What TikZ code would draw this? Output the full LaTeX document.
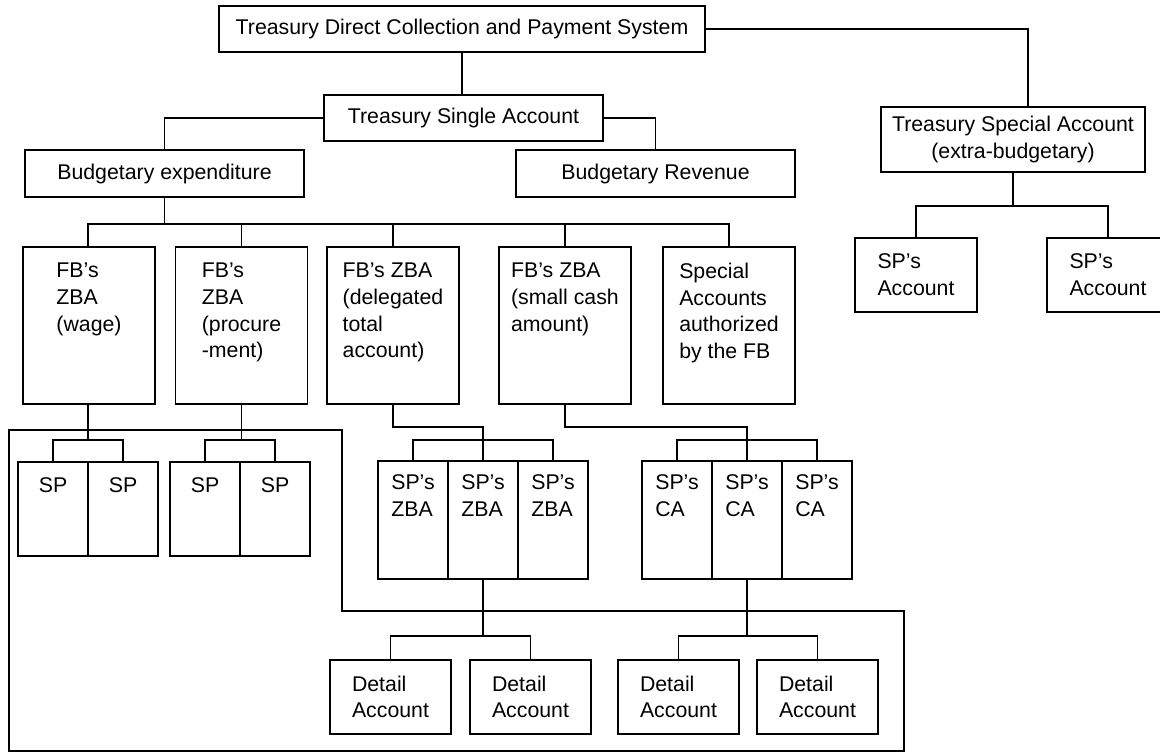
\documentclass[tikz,border=0pt]{standalone}
\usepackage{fontspec}
\setmainfont{Liberation Sans}
\usepackage{tikz}
\usetikzlibrary{calc}

\begin{document}
\begin{tikzpicture}[x=1pt,y=-1pt,line width=1.8pt,
  every node/.style={font=\fontsize{21.3}{26.7}\selectfont},
  box/.style={draw,inner sep=0pt,align=center},
  fb/.style={box,minimum width=132pt,minimum height=157pt},
  sp/.style={box,minimum width=70pt,minimum height=94pt},
  spz/.style={box,minimum width=70pt,minimum height=118pt},
  acc/.style={box,align=left,minimum width=121pt,minimum height=74pt},
  txt/.style={inner sep=0pt,align=left,anchor=north}]
  \useasboundingbox (0,0) rectangle (1160,753);

  % treasury level
  \node[box,minimum width=486pt,minimum height=46pt] (tdc) at (462,29) {Treasury Direct Collection and Payment System};
  \node[box,minimum width=279pt,minimum height=46pt] (tsa) at (463.5,118) {Treasury Single Account};
  \node[box,minimum width=279pt,minimum height=47pt] (exp) at (164.5,173.5) {Budgetary expenditure};
  \node[box,minimum width=279pt,minimum height=47pt] (rev) at (655.5,173.5) {Budgetary Revenue};
  \node[box,minimum width=264pt,minimum height=65pt] (tspa) at (1013,139.5) {Treasury Special Account\\(extra-budgetary)};
  \node[acc,minimum width=122pt] (spa1) at (916,275) {SP's\\Account};
  \node[acc,minimum width=122pt] (spa2) at (1108,275) {SP's\\Account};

  % FB accounts
  \node[fb] (wage) at (89,325.5) {};
  \node[fb] (proc) at (241.5,325.5) {};
  \node[fb] (dele) at (393,325.5) {};
  \node[fb] (cash) at (565,325.5) {};
  \node[fb] (spec) at (729,325.5) {};
  \node[txt] (wage-t) at ([yshift=-16pt]wage.north) {FB's\\ZBA\\(wage)};
  \node[txt] (proc-t) at ([yshift=-16pt]proc.north) {FB's\\ZBA\\(procure\\-ment)};
  \node[txt] (dele-t) at ([yshift=-16pt]dele.north) {FB's ZBA\\(delegated\\total\\account)};
  \node[txt] (cash-t) at ([yshift=-16pt]cash.north) {FB's ZBA\\(small cash\\amount)};
  \node[txt] (spec-t) at ([yshift=-16pt]spec.north) {Special\\Accounts\\authorized\\by the FB};

  % SP accounts
  \node[sp] (w1) at (53,509) {};
  \node[sp] (w2) at (123,509) {};
  \node[sp] (p1) at (205,509) {};
  \node[sp] (p2) at (275,509) {};
  \node[txt] (w1-t) at ([yshift=-16pt]w1.north) {SP};
  \node[txt] (w2-t) at ([yshift=-16pt]w2.north) {SP};
  \node[txt] (p1-t) at ([yshift=-16pt]p1.north) {SP};
  \node[txt] (p2-t) at ([yshift=-16pt]p2.north) {SP};

  \node[spz] (z1) at (413,520) {};
  \node[spz] (z2) at (483,520) {};
  \node[spz] (z3) at (553,520) {};
  \node[spz] (c1) at (677,520) {};
  \node[spz] (c2) at (747,520) {};
  \node[spz] (c3) at (817,520) {};
  \node[txt] (z1-t) at ([yshift=-14pt]z1.north) {SP's\\ZBA};
  \node[txt] (z2-t) at ([yshift=-14pt]z2.north) {SP's\\ZBA};
  \node[txt] (z3-t) at ([yshift=-14pt]z3.north) {SP's\\ZBA};
  \node[txt] (c1-t) at ([yshift=-14pt]c1.north) {SP's\\CA};
  \node[txt] (c2-t) at ([yshift=-14pt]c2.north) {SP's\\CA};
  \node[txt] (c3-t) at ([yshift=-14pt]c3.north) {SP's\\CA};

  % detail accounts
  \node[acc] (d1) at (390.5,697) {Detail\\Account};
  \node[acc] (d2) at (530.5,697) {Detail\\Account};
  \node[acc] (d3) at (678.5,697) {Detail\\Account};
  \node[acc] (d4) at (817.5,697) {Detail\\Account};

  % frame round the SP level
  \draw (9,430) -| (342,611) -| (904,751) -- (9,751) -- cycle;

  % connectors
  \draw (tdc.south) -- (tdc.south |- tsa.north);
  \draw (tsa.west) -| (exp.north);
  \draw (tsa.east) -| (rev.north);
  \draw (tdc.east) -| ([xshift=15pt]tspa.north);
  \draw (spa1.north) -- ++(0,-31) coordinate (j0) -| (spa2.north);
  \draw (tspa.south) -- (tspa.south |- j0);

  \draw (exp.south) -- ++(0,26) coordinate (j1);
  \draw ([xshift=-1pt]wage.north) |- (j1) -| (spec.north);
  \draw (proc.north) -- (proc.north |- j1);
  \draw (dele.north) -- (dele.north |- j1);
  \draw (cash.north) -- (cash.north |- j1);

  \draw (w1.north) -- ++(0,-21) coordinate (j2) -| (w2.north);
  \draw ([xshift=-1pt]wage.south) -- ([xshift=-1pt]wage.south |- j2);
  \draw (p1.north) -- ++(0,-21) coordinate (j3) -| (p2.north);
  \draw (proc.south) -- (proc.south |- j3);

  \draw (dele.south) -- ++(0,22) -| (z2.north);
  \draw (z1.north) -- ++(0,-20) -| (z3.north);
  \draw (cash.south) -- ++(0,22) -| (c2.north);
  \draw (c1.north) -- ++(0,-20) -| (c3.north);

  \draw (d1.north) -- ++(0,-23) coordinate (j5) -| (d2.north);
  \draw (z2.south) -- (z2.south |- j5);
  \draw (d3.north) -- ++(0,-23) coordinate (j6) -| (d4.north);
  \draw (c2.south) -- (c2.south |- j6);
\end{tikzpicture}
\end{document}
